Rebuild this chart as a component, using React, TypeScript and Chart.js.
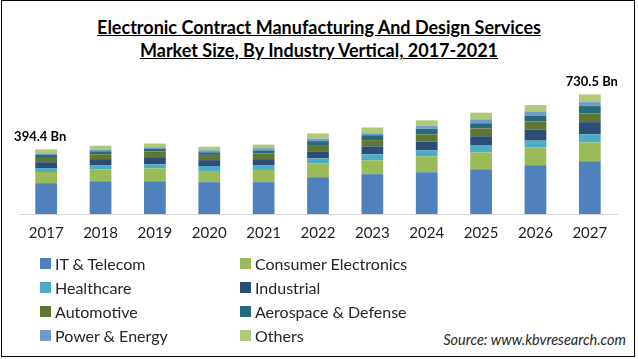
import React, { useEffect, useRef } from "react";
import { Chart, registerables } from "chart.js";

Chart.register(...registerables);

const categories = ["2017", "2018", "2019", "2020", "2021", "2022", "2023", "2024", "2025", "2026", "2027"];
const itTelecom = [188.4, 200, 200, 194, 194, 225, 243, 255, 273, 297, 322];
const consumerElectronics = [68, 73, 79, 69, 75, 85, 85, 97, 103, 109, 115];
const healthcare = [24, 26, 24, 30, 30, 30, 36, 36, 42, 42, 49];
const industrial = [36, 36, 44, 36, 36, 43, 49, 55, 57, 67, 75];
const automotive = [26, 30, 35, 32, 35, 38, 38, 43, 47, 50, 53];
const aerospaceDefense = [18, 18, 16, 16, 18, 24, 30, 35, 32, 36, 45];
const powerEnergy = [10, 10, 10, 12, 14, 15, 12, 16, 24, 22, 24];
const others = [24, 24, 22, 22, 22, 32, 35, 35, 41, 42, 47.5];
const labeledIndices = [0, 10];

const seriesNames = [
  "IT & Telecom",
  "Consumer Electronics",
  "Healthcare",
  "Industrial",
  "Automotive",
  "Aerospace & Defense",
  "Power & Energy",
  "Others",
];
const seriesData = [itTelecom, consumerElectronics, healthcare, industrial, automotive, aerospaceDefense, powerEnergy, others];
const seriesColors = ["#4f81bd", "#9bbb59", "#4bacc6", "#2c4d75", "#5f7530", "#276a7c", "#729aca", "#afc97a"];

const FONT = "Lato, 'Open Sans', sans-serif";

const totalsPlugin = {
  id: "totals",
  afterDatasetsDraw(chart: any) {
    const ctx = chart.ctx;
    const lastMeta = chart.getDatasetMeta(chart.data.datasets.length - 1);
    ctx.save();
    ctx.font = `bold 13px ${FONT}`;
    ctx.fillStyle = "#000";
    ctx.textAlign = "center";
    ctx.textBaseline = "bottom";
    labeledIndices.forEach((i) => {
      const total = seriesData.reduce((s, arr) => s + arr[i], 0);
      const el = lastMeta.data[i];
      const dx = i === 0 ? -6 : 2;
      ctx.fillText(`${total.toFixed(1)} Bn`, el.x + dx, el.y - 6);
    });
    ctx.restore();
  },
};

export default function App() {
  const ref = useRef<HTMLCanvasElement>(null);
  useEffect(() => {
    if (!ref.current) return;
    const chart = new Chart(ref.current, {
      type: "bar",
      data: {
        labels: categories,
        datasets: seriesNames.map((name, k) => ({
          label: name,
          data: seriesData[k],
          backgroundColor: seriesColors[k],
          borderWidth: 0,
          barPercentage: 0.4,
          categoryPercentage: 1,
        })),
      },
      options: {
        responsive: false,
        animation: false,
        layout: { padding: { left: 19, right: 21, top: 83, bottom: 6 } },
        plugins: { legend: { display: false }, tooltip: { enabled: false }, title: { display: false } },
        scales: {
          x: {
            stacked: true,
            grid: { display: false, drawTicks: false },
            border: { display: true, color: "#d9d9d9", width: 1 },
            ticks: { color: "#1f1f1f", font: { family: FONT, size: 15 }, padding: 10 },
          },
          y: {
            stacked: true,
            display: false,
            min: 0,
            max: 800,
          },
        },
      },
      plugins: [totalsPlugin],
    });
    return () => chart.destroy();
  }, []);

  const rows = [] as any[];
  for (let r = 0; r < 4; r++) {
    for (let c = 0; c < 2; c++) {
      const k = r * 2 + c;
      rows.push(
        <div
          key={k}
          style={{
            position: "absolute",
            left: c === 0 ? 40 : 240,
            top: 254 + r * 24,
            height: 18,
            display: "flex",
            alignItems: "center",
            fontFamily: FONT,
            fontSize: 16,
            color: "#262626",
            whiteSpace: "nowrap",
          }}
        >
          <span style={{ display: "inline-block", width: 11, height: 11, background: seriesColors[k], marginRight: 4 }} />
          {seriesNames[k]}
        </div>
      );
    }
  }

  return (
    <div style={{ position: "fixed", left: 0, top: 0, width: 638, height: 359, background: "#fff", overflow: "hidden" }}>
      <div
        style={{
          position: "absolute",
          left: 1,
          top: 0,
          width: 634,
          height: 357,
          boxSizing: "border-box",
          border: "1px solid #000",
        }}
      />
      <div
        style={{
          position: "absolute",
          left: 0,
          top: 16,
          width: 638,
          textAlign: "center",
          fontFamily: FONT,
          fontWeight: "bold",
          fontSize: 18,
          lineHeight: "23px",
          textDecoration: "underline",
          color: "#000",
        }}
      >
        Electronic Contract Manufacturing And Design Services
        <br />
        Market Size, By Industry Vertical, 2017-2021
      </div>
      <canvas ref={ref} width={638} height={258} style={{ position: "absolute", left: 0, top: 0 }} />
      {rows}
      <div
        style={{
          position: "absolute",
          right: 12,
          top: 331,
          fontFamily: FONT,
          fontStyle: "italic",
          fontSize: 14.5,
          color: "#262626",
        }}
      >
        Source: www.kbvresearch.com
      </div>
    </div>
  );
}
